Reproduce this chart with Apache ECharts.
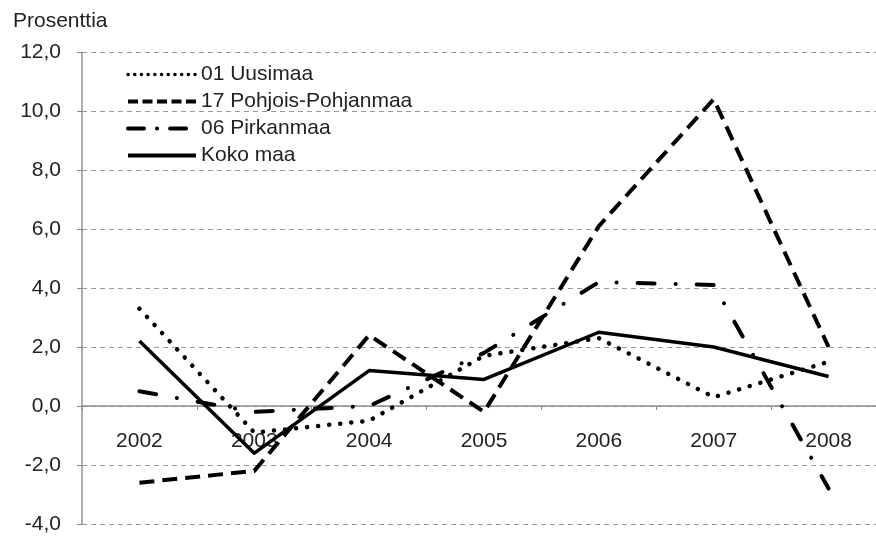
<!DOCTYPE html>
<html>
<head>
<meta charset="utf-8">
<script src="https://cdn.jsdelivr.net/npm/echarts@6/dist/echarts.min.js"></script>
<style>
html,body{margin:0;padding:0;background:#fff;}
#chart{width:876px;height:536px;}
</style>
</head>
<body>
<div id="chart"></div>
<script>
var years = ['2002','2003','2004','2005','2006','2007','2008'];
var uusimaa = [3.3, -0.9, -0.5, 1.7, 2.3, 0.3, 1.5];
var pohjoisPohjanmaa = [-2.6, -2.2, 2.4, -0.2, 6.1, 10.4, 2.0];
var pirkanmaa = [0.5, -0.2, 0.0, 1.8, 4.2, 4.1, -2.8];
var kokoMaa = [2.2, -1.6, 1.2, 0.9, 2.5, 2.0, 1.0];
var seriesNames = ['01 Uusimaa', '17 Pohjois-Pohjanmaa', '06 Pirkanmaa', 'Koko maa'];
var yTicks = {min: -4, max: 12, interval: 2};

var font = 'Liberation Sans, Arial, sans-serif';
var gridTop = 52, gridBottom = 12, chartH = 536;
var plotH = chartH - gridTop - gridBottom;
var zeroOffset = -(0 - yTicks.min) / (yTicks.max - yTicks.min) * plotH;

var chart = echarts.init(document.getElementById('chart'), null, {renderer: 'canvas'});

function lineSeries(name, data, width, dash, cap) {
  return {
    name: name,
    type: 'line',
    data: data,
    symbol: 'none',
    smooth: false,
    z: 3,
    lineStyle: {color: '#000', width: width, type: dash, cap: cap || 'butt', join: 'round'},
    itemStyle: {color: '#000'}
  };
}

var legendStyles = [
  {width: 3.5, type: [0.1, 6.6], cap: 'round', color: '#000'},
  {width: 4, type: [10, 4.5], cap: 'butt', color: '#000'},
  {width: 4, type: [16, 13, 0.1, 13], cap: 'round', color: '#000'},
  {width: 4, type: 'solid', cap: 'butt', color: '#000'}
];

chart.setOption({
  animation: false,
  backgroundColor: '#fff',
  title: {
    text: 'Prosenttia', left: 8, top: 6,
    textStyle: {fontFamily: font, fontSize: 21, fontWeight: 'normal', color: '#222'}
  },
  grid: {left: 82, right: -10, top: gridTop, bottom: gridBottom, containLabel: false, outerBoundsMode: 'none'},
  legend: {
    orient: 'vertical', left: 121, top: 59,
    itemWidth: 68, itemHeight: 14, itemGap: 6,
    itemStyle: {color: 'rgba(0,0,0,0)', borderColor: 'rgba(0,0,0,0)', borderWidth: 0},
    lineStyle: {width: 4},
    textStyle: {fontFamily: font, fontSize: 21, color: '#222'},
    data: seriesNames.map(function (n, i) { return {name: n, lineStyle: legendStyles[i]}; })
  },
  xAxis: {
    type: 'category', data: years, boundaryGap: true,
    offset: zeroOffset,
    axisLine: {onZero: false, lineStyle: {color: '#888', width: 1.5, type: [1.5, 1]}},
    axisTick: {show: true, length: 4, lineStyle: {color: '#888'}},
    axisLabel: {fontFamily: font, fontSize: 21, color: '#222', margin: 25},
    splitLine: {show: false}
  },
  yAxis: {
    type: 'value', min: yTicks.min, max: yTicks.max, interval: yTicks.interval,
    axisLine: {show: true, lineStyle: {color: '#888', width: 1.5, type: [1.5, 1]}},
    axisTick: {show: true, length: 5, lineStyle: {color: '#888'}},
    axisLabel: {
      fontFamily: font, fontSize: 21, color: '#222', margin: 21,
      formatter: function (v) { return v.toFixed(1).replace('.', ','); }
    },
    splitLine: {show: true, lineStyle: {color: '#999', width: 1, type: [5, 4]}}
  },
  series: [
    lineSeries(seriesNames[0], uusimaa, 4.5, [0.1, 11], 'round'),
    lineSeries(seriesNames[1], pohjoisPohjanmaa, 4, [15, 8], 'butt'),
    lineSeries(seriesNames[2], pirkanmaa, 4, [17, 21, 0.1, 21], 'round'),
    lineSeries(seriesNames[3], kokoMaa, 3.5, 'solid', 'butt')
  ]
});
</script>
</body>
</html>
